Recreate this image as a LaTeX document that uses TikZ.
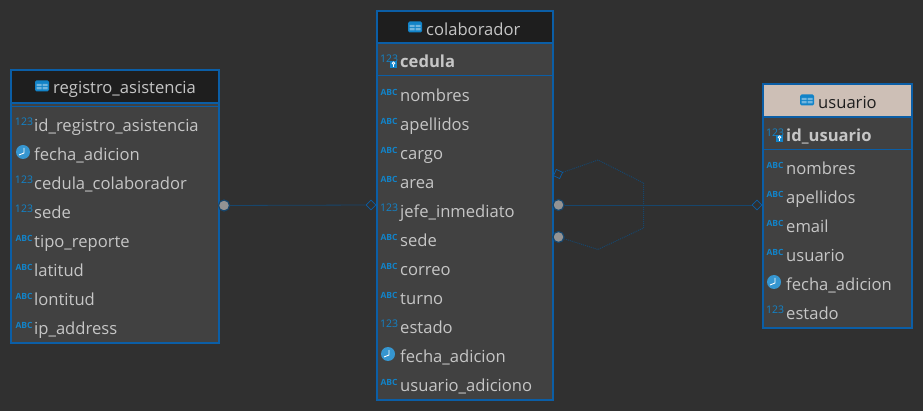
\documentclass[tikz,border=0pt]{standalone}
\usepackage{fontspec}
\setmainfont{Open Sans}
\usetikzlibrary{shapes.geometric}
\definecolor{Canvas}{HTML}{303030}
\definecolor{Body}{HTML}{414141}
\definecolor{Head}{HTML}{1E1E1E}
\definecolor{Beige}{HTML}{CDBFB6}
\definecolor{Edge}{HTML}{0B5EA6}
\definecolor{Link}{HTML}{17466C}
\definecolor{Icon}{HTML}{1283C8}
\definecolor{Label}{HTML}{C6C6C6}
\tikzset{
  icon num/.pic={\node[text=Icon, font=\fontsize{10.5}{12}\selectfont, inner sep=0pt] at (0,-3) {123};},
  icon abc/.pic={\node[text=Icon, font=\fontsize{8.5}{10}\selectfont\bfseries, inner sep=0pt] at (0,-3) {ABC};},
  icon clock/.pic={
    \fill[Icon!85!white] (-1,-2) circle (7);
    \draw[white, line width=0.9pt] (0,-6) -- (0,-1) -- (-5,1);},
  icon key/.pic={
    \node[text=Icon, font=\fontsize{10.5}{12}\selectfont, inner sep=0pt] at (0,-2) {123};
    \fill[Icon] (1,0) rectangle (8,7);
    \draw[white, line width=0.8pt] (4.5,2.2) circle (1.3) (4.5,3.5) -- (4.5,6);},
  icon table/.pic={
    \fill[Icon, rounded corners=1.5pt] (-7,-5.5) rectangle (7,5.5);
    \fill[Icon!60!white] (-5.5,-2) rectangle (-0.5,0) (0.5,-2) rectangle (5.5,0)
      (-5.5,1) rectangle (-0.5,3.5) (0.5,1) rectangle (5.5,3.5);}
}

\begin{document}
\begin{tikzpicture}[x=1pt, y=-1pt,
  row/.style={anchor=west, text=Label, inner sep=0pt, text height=17pt, text depth=4pt, font=\fontsize{16.6}{18}\selectfont},
  keyrow/.style={row, font=\fontsize{16.6}{18}\selectfont\bfseries},
  pk/.style={diamond, draw=Edge, line width=0.7pt, inner sep=0pt, minimum size=10pt},
  fk/.style={circle, draw=Link, fill=gray!85, line width=1.2pt, inner sep=0pt, minimum size=11pt},
  rel/.style={draw=Link, line width=0.8pt},
  selfrel/.style={draw=Link, line width=1pt, densely dotted} ]

\fill[Canvas] (0,0) rectangle (923,411);
\useasboundingbox (0,0) rectangle (923,411);

% registro_asistencia
\filldraw[draw=Edge, line width=2pt, fill=Body] (11,70) rectangle (219,343);
\filldraw[draw=Edge, line width=1.5pt, fill=Head] (11,70) rectangle (219,103);
\draw[Edge, line width=1pt] (11,106.5) -- (219,106.5);
\pic at (42,86) {icon table};
\node[row] (reg) at (53,87) {registro\_asistencia};
\foreach \y/\name/\kind [count=\i] in {125/id\_registro\_asistencia/icon num, 154/fecha\_adicion/icon clock,
    183/cedula\_colaborador/icon num, 212/sede/icon num, 241/tipo\_reporte/icon abc, 270/latitud/icon abc,
    299/lontitud/icon abc, 328/ip\_address/icon abc} {
  \pic at (24,\y) {\kind};
  \node[row] (reg\i) at (34,\y) {\name};
}

% colaborador
\filldraw[draw=Edge, line width=2pt, fill=Body] (377,11) rectangle (553,400);
\filldraw[draw=Edge, line width=1.5pt, fill=Head] (377,11) rectangle (553,43);
\draw[Edge, line width=1pt] (377,76) -- (553,76);
\pic at (415,27) {icon table};
\node[row] (col) at (426,29) {colaborador};
\pic at (389,61) {icon key};
\node[keyrow] (cedula) at (400,61) {cedula};
\foreach \y/\name/\kind [count=\i] in {95/nombres/icon abc, 124/apellidos/icon abc, 153/cargo/icon abc, 182/area/icon abc,
    211/jefe\_inmediato/icon num, 240/sede/icon abc, 269/correo/icon abc, 298/turno/icon abc, 327/estado/icon num,
    356/fecha\_adicion/icon clock, 385/usuario\_adiciono/icon abc} {
  \pic at (389,\y) {\kind};
  \node[row] (col\i) at (400,\y) {\name};
}

% usuario
\filldraw[draw=Edge, line width=2pt, fill=Body] (763,84) rectangle (912,328);
\filldraw[draw=Edge, line width=1.5pt, fill=Beige] (763,84) rectangle (912,117);
\draw[Edge, line width=1pt] (763,149.5) -- (912,149.5);
\pic at (807,100) {icon table};
\node[row, text=Head] (usr) at (818,102) {usuario};
\pic at (775,135) {icon key};
\node[keyrow] (idusr) at (786,135) {id\_usuario};
\foreach \y/\name/\kind [count=\i] in {168/nombres/icon abc, 197/apellidos/icon abc, 226/email/icon abc, 255/usuario/icon abc,
    284/fecha\_adicion/icon clock, 313/estado/icon num} {
  \pic at (775,\y) {\kind};
  \node[row] (usr\i) at (786,\y) {\name};
}

% relations
\node[fk] (regdot) at (224,205.5) {};
\node[pk] (coldia) at (371,205) {};
\draw[rel] (regdot) -- (coldia);

\node[fk] (jefedot) at (558.5,205) {};
\node[pk] (usrdia) at (757,205) {};
\draw[rel] (jefedot) -- (usrdia);

\node[pk, rotate=20] (loopdia) at (558,174) {};
\node[fk] (loopdot) at (558.5,237) {};
\coordinate (loopa) at (598,160);
\coordinate (loopb) at (643.5,183);
\coordinate (loopc) at (643.5,228);
\coordinate (loopd) at (598,249.5);
\draw[selfrel] (loopdia) -- (loopa) -- (loopb) -- (loopc) -- (loopd) -- (loopdot);

\end{tikzpicture}
\end{document}
